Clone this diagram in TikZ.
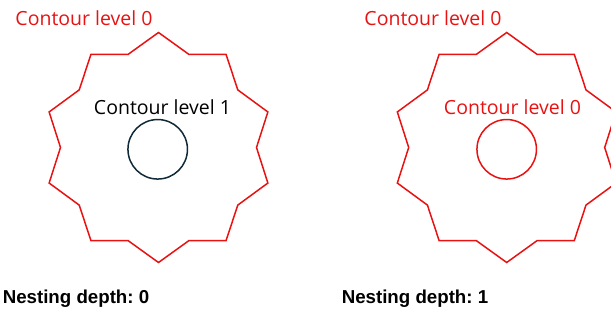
\documentclass[tikz,border=0pt]{standalone}
\usepackage{fontspec}
\setmainfont{Open Sans}
\newfontfamily\labelfont{Liberation Sans}
\usetikzlibrary{positioning}
\frenchspacing
\definecolor{contourred}{RGB}{232,18,18}
\definecolor{contourdark}{RGB}{16,42,56}
\newcommand{\starcontour}{\draw[contourred, line width=1.5pt, line join=miter] (90:115)
					\foreach \k in {1,...,19} {-- ({90+18*\k}:{106.5+8.5*cos(180*\k)})} -- cycle;}
\tikzset{levellabel/.style={inner sep=0pt, font=\fontsize{19.5}{22}\selectfont},
	depthlabel/.style={inner sep=0pt, font=\labelfont\bfseries\fontsize{18.7}{21}\selectfont}}

\begin{document}
\begin{tikzpicture}[x=1pt, y=-1pt]
					\useasboundingbox (0,0) rectangle (611,320);
					\clip (0,0) rectangle (611,320);
					
					\begin{scope}[xshift = 158.5pt, yshift=-147.5pt]
						\starcontour
					\end{scope}
					\node[circle, draw=contourdark, line width=1.5pt, minimum size=59.5pt, inner sep=0pt] (inner0) at (157.7,149.3) {};
					\node[levellabel, contourred] (outerlabel0) at (84,18) {Contour level 0};
					\node[levellabel] (innerlabel0) at (162.5,107) {Contour level 1};
					\node[depthlabel] (depth0) at (76,298.5) {Nesting depth: 0};
					
					\begin{scope}[xshift = 506.7pt, yshift=-147.5pt]
						\starcontour
					\end{scope}
					\node[circle, draw=contourred, line width=1.5pt, minimum size=59.5pt, inner sep=0pt] (inner1) at (506.7,149.3) {};
					\node[levellabel, contourred] (outerlabel1) at (433,18) {Contour level 0};
					\node[levellabel, contourred] (innerlabel1) at (512.5,107) {Contour level 0};
					\node[depthlabel] (depth1) at (415,298.5) {Nesting depth: 1};
										
\end{tikzpicture}
\end{document}
